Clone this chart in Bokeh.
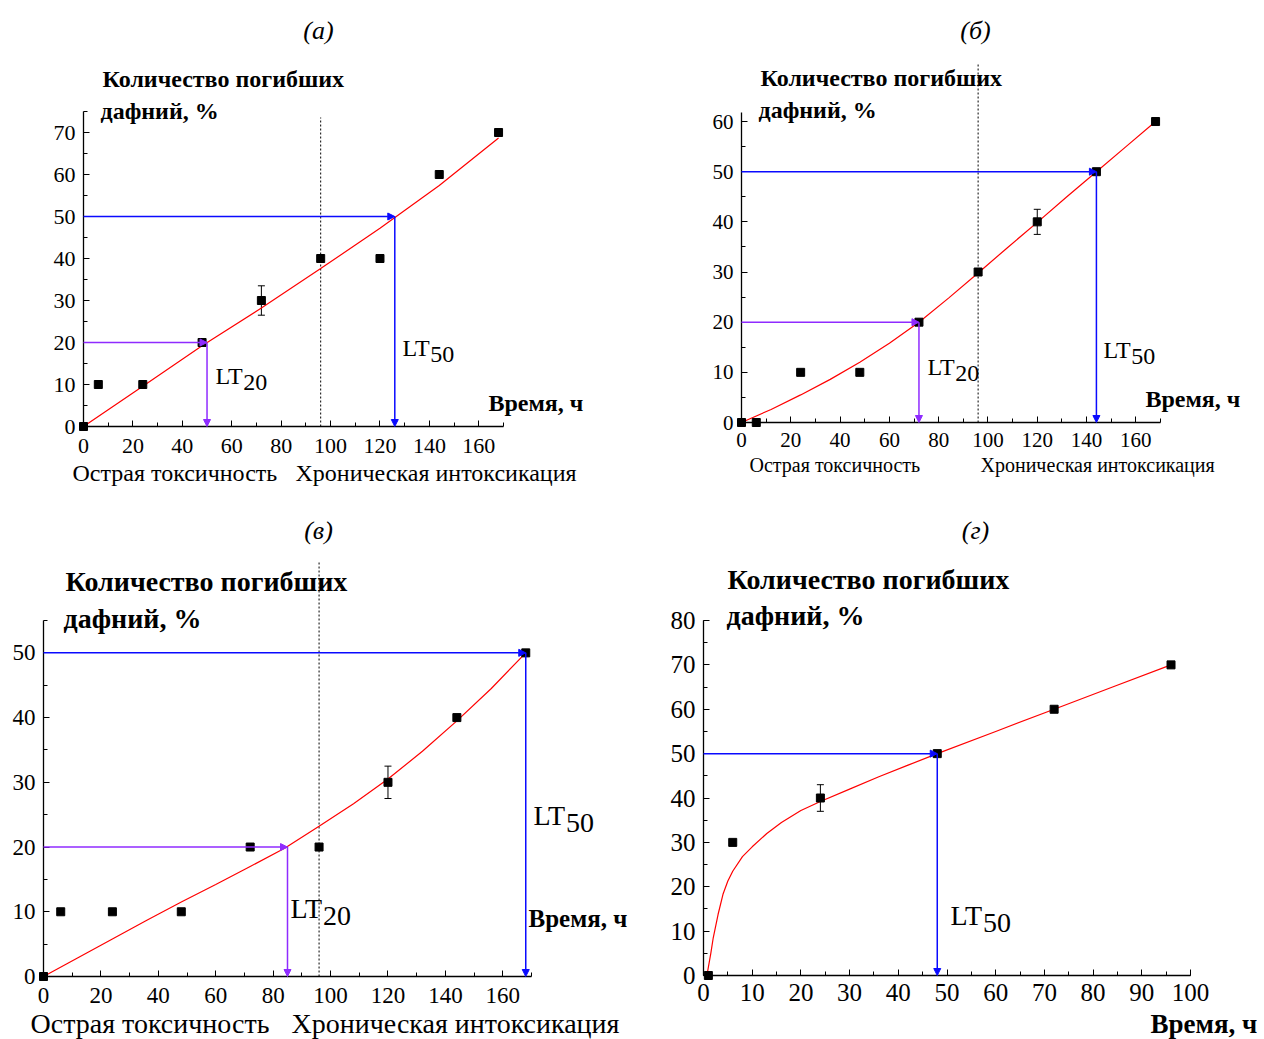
from bokeh.plotting import figure
from bokeh.layouts import column, row
from bokeh.models import (Range1d, SingleIntervalTicker, Label, Arrow, NormalHead,
                          Whisker, TeeHead, ColumnDataSource, LinearAxis)
from bokeh.embed import file_html
from bokeh.resources import INLINE

FONT = "Liberation Serif"

# ---------------- data ----------------
# (а)
t_a = [0, 6, 24, 48, 72, 96, 120, 144, 168]
m_a = [0, 10, 10, 20, 30, 40, 40, 60, 70]
e_a = [0, 0, 0, 0, 3.5, 0, 0, 0, 0]
fit_t_a = [0, 24, 48, 72, 96, 120, 144, 168]
fit_m_a = [0, 9.6, 19.2, 28.2, 37.6, 47.2, 57.4, 68.7]
lt20_a, lt50_a = 50, 126

# (б)
t_b = [0, 6, 24, 48, 72, 96, 120, 144, 168]
m_b = [0, 0, 10, 10, 20, 30, 40, 50, 60]
e_b = [0, 0, 0, 0, 0, 0, 2.5, 0, 0]
fit_t_b = [0, 12, 24, 36, 48, 60, 72, 84, 96, 108, 120, 132, 144, 156, 168]
fit_m_b = [0, 2.6, 5.5, 8.6, 12, 15.8, 20, 24.8, 29.8, 34.9, 39.9, 45, 50, 55, 60]
lt20_b, lt50_b = 72, 144

# (в)
t_c = [0, 6, 24, 48, 72, 96, 120, 144, 168]
m_c = [0, 10, 10, 10, 20, 20, 30, 40, 50]
e_c = [0, 0, 0, 0, 0, 0, 2.5, 0, 0]
fit_t_c = [0, 12, 24, 36, 48, 60, 72, 84, 96, 108, 120, 132, 144, 156, 168]
fit_m_c = [0, 2.9, 5.8, 8.7, 11.5, 14.2, 17, 19.8, 23.2, 26.7, 30.5, 34.8, 39.5, 44.5, 50]
lt20_c, lt50_c = 85, 168

# (г)
t_d = [1, 6, 24, 48, 72, 96]
m_d = [0, 30, 40, 50, 60, 70]
e_d = [0, 0, 3, 0, 0, 0]
fit_t_d = [0.7, 1.5, 2, 3, 4, 5, 6, 8, 10, 13, 16, 20, 24, 30, 36, 42, 48, 60, 72, 84, 96]
fit_m_d = [0, 5, 8.5, 13.8, 18.3, 21.3, 23.5, 26.8, 29, 32, 34.5, 37.2, 39.2, 42, 44.8, 47.4, 50, 55, 60, 65, 70]
lt50_d = 48

boundary_t = 96

BLUE = "#0a0aff"
PURPLE = "#8f2bff"
RED = "#ff0000"


def make_panel(canvas, axes_box, xmax, ymax, xint, tick_size, x_standoff, y_standoff,
               t, m, e, fit_t, fit_m, arrows, dotted_top_px):
    cx, cy, W, H = canvas
    L, T, R, B = axes_box          # page pixels of the axes box (0..xmax, 0..ymax)
    kx = (R - L) / xmax
    ky = (B - T) / ymax
    xr = Range1d((cx - L) / kx, (cx + W - L) / kx)
    yr = Range1d((B - (cy + H)) / ky, (B - cy) / ky)
    p = figure(width=W, height=H, x_range=xr, y_range=yr,
               output_backend="svg", toolbar_location=None,
               x_axis_location=None, y_axis_location=None,
               min_border=0, min_border_left=0, min_border_right=0,
               min_border_top=0, min_border_bottom=0)
    p.grid.visible = False
    p.outline_line_color = None
    p.background_fill_color = "white"
    p.border_fill_color = "white"

    xaxis = LinearAxis(fixed_location=0, bounds=(0, xmax),
                       ticker=SingleIntervalTicker(interval=xint, num_minor_ticks=2))
    yaxis = LinearAxis(fixed_location=0, bounds=(0, ymax),
                       ticker=SingleIntervalTicker(interval=10, num_minor_ticks=2))
    for ax in (xaxis, yaxis):
        ax.axis_line_color = "black"
        ax.axis_line_width = 1.3
        ax.major_tick_in = 6
        ax.major_tick_out = 0
        ax.minor_tick_in = 4
        ax.minor_tick_out = 0
        ax.major_tick_line_color = "black"
        ax.minor_tick_line_color = "black"
        ax.major_label_text_font = FONT
        ax.major_label_text_font_size = f"{tick_size}px"
        ax.major_label_text_color = "black"
    xaxis.major_label_standoff = x_standoff
    yaxis.major_label_standoff = y_standoff
    p.add_layout(xaxis, "below")
    p.add_layout(yaxis, "left")

    def to_data(px, py):
        return (px - L) / kx, (B - py) / ky

    if dotted_top_px is not None:
        ytop = (B - dotted_top_px) / ky
        p.segment(x0=[boundary_t], y0=[0], x1=[boundary_t], y1=[ytop],
                  line_color="black", line_width=1, line_dash="2 2")

    p.line(fit_t, fit_m, line_color=RED, line_width=1.2)

    for (xv, yv, col) in arrows:
        p.add_layout(Arrow(x_start=0, y_start=yv, x_end=xv, y_end=yv, line_color=col,
                           line_width=1.5,
                           end=NormalHead(size=7, fill_color=col, line_color=col)))
        p.add_layout(Arrow(x_start=xv, y_start=yv, x_end=xv, y_end=0, line_color=col,
                           line_width=1.5,
                           end=NormalHead(size=7, fill_color=col, line_color=col)))

    et = [ti for ti, ei in zip(t, e) if ei > 0]
    lo = [mi - ei for mi, ei in zip(m, e) if ei > 0]
    hi = [mi + ei for mi, ei in zip(m, e) if ei > 0]
    if et:
        src = ColumnDataSource(dict(x=et, lo=lo, hi=hi))
        p.add_layout(Whisker(base="x", lower="lo", upper="hi", source=src,
                             dimension="height", line_color="black", line_width=1,
                             upper_head=TeeHead(size=7, line_color="black"),
                             lower_head=TeeHead(size=7, line_color="black")))

    p.scatter(t, m, marker="square", size=8, color="black")
    return p, to_data


def add_text(p, to_data, text, px, py, size, style="normal", align="left",
             baseline="middle"):
    x, y = to_data(px, py)
    p.add_layout(Label(x=x, y=y, text=text, text_font=FONT,
                       text_font_size=f"{size}px", text_font_style=style,
                       text_align=align, text_baseline=baseline,
                       text_color="black"))


def add_lt(p, to_data, sub, px, py, size):
    # px: left edge, py: vertical centre of "LT"; subscript set slightly lower
    add_text(p, to_data, "LT", px, py, size)
    add_text(p, to_data, sub, px + 1.16 * size, py + 0.28 * size, size)


# ---------------- panel (а) ----------------
pa, ta = make_panel((0, 0, 640, 500), (83, 111, 503, 426), 170, 75, 20, 22, 12, 8,
                    t_a, m_a, e_a, fit_t_a, fit_m_a,
                    [(lt20_a, 20, PURPLE), (lt50_a, 50, BLUE)], 117)
add_text(pa, ta, "(а)", 318, 30, 26, style="italic", align="center")
add_text(pa, ta, "Количество погибших", 102, 78, 24, style="bold")
add_text(pa, ta, "дафний, %", 100, 110, 24, style="bold")
add_text(pa, ta, "Время, ч", 488, 402, 24, style="bold")
add_text(pa, ta, "Острая токсичность", 72, 472, 24)
add_text(pa, ta, "Хроническая интоксикация", 295, 472, 24)
add_lt(pa, ta, "20", 215, 375, 24)
add_lt(pa, ta, "50", 402, 347, 24)

# ---------------- panel (б) ----------------
pb, tb = make_panel((640, 0, 624, 500), (741, 112, 1160, 422), 170, 61.8, 20, 21, 10, 8,
                    t_b, m_b, e_b, fit_t_b, fit_m_b,
                    [(lt20_b, 20, PURPLE), (lt50_b, 50, BLUE)], 62)
add_text(pb, tb, "(б)", 975, 30, 26, style="italic", align="center")
add_text(pb, tb, "Количество погибших", 760, 77, 24, style="bold")
add_text(pb, tb, "дафний, %", 758, 109, 24, style="bold")
add_text(pb, tb, "Время, ч", 1145, 398, 24, style="bold")
add_text(pb, tb, "Острая токсичность", 749, 464, 20)
add_text(pb, tb, "Хроническая интоксикация", 980, 464, 20)
add_lt(pb, tb, "20", 927, 366, 24)
add_lt(pb, tb, "50", 1103, 349, 24)

# ---------------- panel (в) ----------------
pc, tc = make_panel((0, 500, 640, 539), (43, 620, 531, 976), 170, 55, 20, 23, 11, 8,
                    t_c, m_c, e_c, fit_t_c, fit_m_c,
                    [(lt20_c, 20, PURPLE), (lt50_c, 50, BLUE)], 562)
add_text(pc, tc, "(в)", 318, 530, 26, style="italic", align="center")
add_text(pc, tc, "Количество погибших", 65, 581, 28, style="bold")
add_text(pc, tc, "дафний, %", 63, 618, 28, style="bold")
add_text(pc, tc, "Время, ч", 528, 918, 25, style="bold")
add_text(pc, tc, "Острая токсичность", 30, 1023, 28)
add_text(pc, tc, "Хроническая интоксикация", 291, 1023, 28)
add_lt(pc, tc, "20", 290, 908, 28)
add_lt(pc, tc, "50", 533, 815, 28)

# ---------------- panel (г) ----------------
pd_, td = make_panel((640, 500, 624, 539), (703, 620, 1190, 975), 100, 80, 10, 25, 8, 8,
                     t_d, m_d, e_d, fit_t_d, fit_m_d,
                     [(lt50_d, 50, BLUE)], None)
add_text(pd_, td, "(г)", 975, 530, 26, style="italic", align="center")
add_text(pd_, td, "Количество погибших", 727, 579, 28, style="bold")
add_text(pd_, td, "дафний, %", 726, 615, 28, style="bold")
add_text(pd_, td, "Время, ч", 1150, 1023, 27, style="bold")
add_lt(pd_, td, "50", 950, 915, 28)

layout = column(row(pa, pb, spacing=0), row(pc, pd_, spacing=0), spacing=0)

open("out.html", "w").write(file_html(layout, INLINE))
